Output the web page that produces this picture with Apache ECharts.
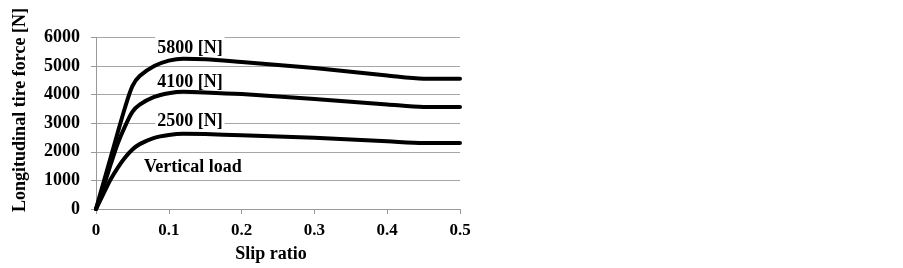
<!DOCTYPE html>
<html><head><meta charset="utf-8">
<script src="https://cdn.jsdelivr.net/npm/echarts@6/dist/echarts.min.js"></script>
<style>html,body{margin:0;padding:0;background:#fff}#c{width:903px;height:268px}</style>
</head><body><div id="c"></div>
<script>
const slip = [0, 0.01, 0.02, 0.03, 0.04, 0.05, 0.06, 0.08, 0.1, 0.12, 0.15, 0.2, 0.3, 0.4, 0.45, 0.5];
const load5800 = [0, 900, 1790, 2690, 3560, 4300, 4650, 5000, 5190, 5260, 5240, 5140, 4930, 4670, 4560, 4560];
const load4100 = [0, 750, 1550, 2300, 2900, 3400, 3650, 3920, 4050, 4100, 4080, 4020, 3850, 3660, 3570, 3570];
const load2500 = [0, 520, 1030, 1450, 1800, 2080, 2270, 2490, 2590, 2630, 2620, 2580, 2490, 2370, 2310, 2310];
const seriesNames = ['5800 [N]', '4100 [N]', '2500 [N]'];
const annotations = [
  {text: '5800 [N]', at: [0.129, 5630]},
  {text: '4100 [N]', at: [0.129, 4420]},
  {text: '2500 [N]', at: [0.129, 3070]},
  {text: 'Vertical load', at: [0.133, 1460]}
];
const xTitle = 'Slip ratio';
const yTitle = 'Longitudinal tire force [N]';

const FONT = '"Liberation Serif","Times New Roman",serif';
const chart = echarts.init(document.getElementById('c'), null, {renderer: 'canvas'});
const mk = (name, vals) => ({
  name, type: 'line', data: slip.map((x, i) => [x, vals[i]]),
  smooth: 0.3, showSymbol: false, z: 3,
  lineStyle: {color: '#000', width: 4, join: 'round', cap: 'round'}, animation: false
});
const grid = {left: 96, right: 443, top: 37.5, bottom: 59};
chart.setOption({
  animation: false,
  grid,
  xAxis: {
    type: 'value', min: 0, max: 0.5, interval: 0.1,
    axisLine: {lineStyle: {color: '#999', width: 1}},
    axisTick: {show: true, length: 5, lineStyle: {color: '#999'}},
    splitLine: {show: false},
    axisLabel: {color: '#000', fontFamily: FONT, fontWeight: 'bold', fontSize: 17, margin: 13,
      formatter: v => (v === 0 ? '0' : String(+v.toFixed(1)))}
  },
  yAxis: {
    type: 'value', min: 0, max: 6000, interval: 1000,
    axisLine: {show: true, lineStyle: {color: '#999', width: 1}},
    axisTick: {show: true, length: 5, lineStyle: {color: '#999'}},
    splitLine: {show: true, lineStyle: {color: '#a6a6a6', width: 1}},
    axisLabel: {color: '#000', fontFamily: FONT, fontWeight: 'bold', fontSize: 18, margin: 16,
      formatter: v => String(Math.round(v))}
  },
  series: [mk(seriesNames[0], load5800), mk(seriesNames[1], load4100), mk(seriesNames[2], load2500)]
});
const gfx = [];
annotations.forEach(a => {
  const p = chart.convertToPixel({gridIndex: 0}, a.at);
  gfx.push({type: 'text', x: p[0], y: p[1], z: 1, silent: true,
    style: {text: a.text, fill: '#000', font: 'bold 18px ' + FONT, align: 'center', verticalAlign: 'middle',
      backgroundColor: '#fff', padding: [3, 2, 3, 2]}});
});
const plotCx = grid.left + (903 - grid.left - grid.right) / 2;
gfx.push({type: 'text', x: plotCx - 7, y: 254, silent: true,
  style: {text: xTitle, fill: '#000', font: 'bold 18px ' + FONT, align: 'center', verticalAlign: 'middle'}});
gfx.push({type: 'text', x: 20, y: 110, rotation: Math.PI / 2, silent: true,
  style: {text: yTitle, fill: '#000', font: 'bold 18px ' + FONT, align: 'center', verticalAlign: 'middle'}});
chart.setOption({graphic: gfx});
</script></body></html>
